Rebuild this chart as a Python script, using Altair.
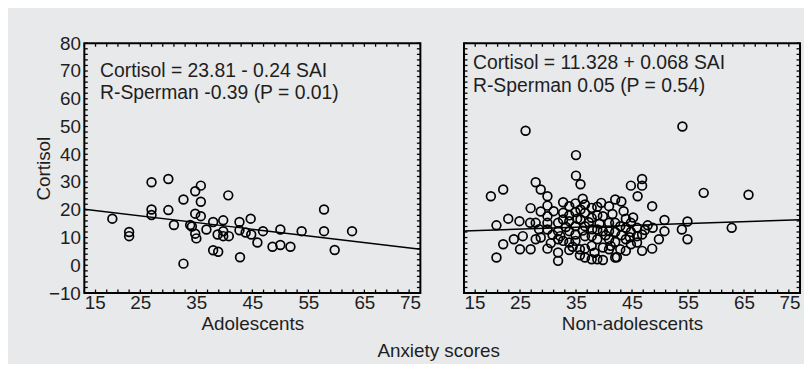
import altair as alt
import pandas as pd

# ---------------- data ----------------
adol_x = [20, 23, 23, 27, 27, 27, 30, 30, 31, 32.7, 32.7, 33.9, 34.2, 34.8, 34.8, 34.8, 35, 35.8, 35.8, 35.8,
          36.8, 38, 38, 38.9, 38.8, 39.8, 39.8, 39.8, 40.7, 40.8, 42.7, 42.7, 42.8, 43.8, 44.7, 44.8, 45.9,
          46.9, 48.6, 50, 50, 51.8, 53.8, 57.8, 57.8, 59.7, 62.8]
adol_y = [16.8, 12, 10.5, 29.9, 20.1, 18.1, 31.1, 19.9, 14.5, 23.7, 0.6, 14.5, 14, 26.7, 18.6, 11.4, 9.7, 28.7,
          22.9, 17.7, 12.9, 15.6, 5.4, 4.9, 11.1, 16.2, 12.3, 10.5, 25.2, 10.5, 15.6, 12.6, 2.9, 11.8, 16.8,
          11.1, 8.2, 12.3, 6.7, 12.9, 7.3, 6.7, 12.3, 20.1, 12.3, 5.5, 12.3]

nonadol_x = [26, 54, 35, 35, 35.8, 19.8, 22, 27.8, 28.7, 29.9, 29.9, 26.9, 28.7, 44.8, 46.8, 46.8, 46, 42, 43.1,
             40.9, 48.6, 57.8, 65.8, 62.8, 54.9, 54.9, 53.9, 50.8, 50.8, 49.8, 48.6, 20.8, 20.8, 22, 22.9, 23.9,
             24.9, 25, 26.8, 26.9, 27.8, 27.8, 28.7, 29.9, 29.9, 29.9, 29.9, 31.8, 31.8, 31.8, 31.8, 31.8, 32.7,
             32.7, 32.7, 32.7, 33.8, 33.8, 33.8, 33.8, 33.8, 34.9, 34.9, 34.9, 34.9, 34.9, 35.7, 35.7, 35.8,
             35.8, 36.6, 36.6, 36.6, 36.6, 36.6, 36.6, 37.8, 37.8, 37.8, 37.8, 37.8, 38.8, 38.8, 38.8, 38.8,
             38.8, 39.8, 39.8, 39.8, 39.8, 40.9, 40.9, 40.9, 40.9, 42, 42, 42, 42, 42.9, 42.9, 43.9, 43.9, 43.9,
             43.9, 44.8, 44.8, 44.8, 45.9, 45.9, 45.9, 46.8, 46.8, 47.8, 48.7,
             30.8, 33.8, 37.9, 39.2, 41.5, 36.2, 40.3, 43.1, 33.2, 31, 28.4, 25.5, 44.6, 42.3, 38.3, 35.2,
             37.3, 34.4, 41.2, 36.2, 39.5, 32.2, 47.3, 45.2, 30.5, 43.5]
nonadol_y = [48.5, 50, 39.7, 32.3, 29.2, 24.9, 27.3, 29.9, 27.3, 24.9, 21.5, 20.6, 19.4, 28.7, 31.1, 28.7, 24.9,
             23.7, 23, 21.3, 21.3, 26.1, 25.4, 13.5, 15.8, 9.4, 12.9, 16.3, 12.3, 9.4, 6, 2.8, 14.4, 7.6, 16.8,
             9.4, 15.9, 5.8, 15.3, 5.8, 15.3, 9.4, 10, 17.7, 15.3, 12.9, 6, 15.3, 12.3, 9.4, 4.6, 1.6, 22.7,
             18.9, 16.5, 8.8, 21.3, 18, 15.9, 12.3, 8.2, 22.3, 19.2, 14.1, 11.1, 8.8, 5.8, 3.6, 20.1, 16.5,
             21.9, 18.9, 14.1, 10.5, 6, 2.8, 20.7, 17.1, 10.5, 7, 2.2, 21.1, 18, 12.9, 9.4, 2.2, 17.7, 12.3,
             6.4, 1.9, 15.3, 12.3, 9.4, 5.8, 15.3, 12, 8.4, 2.8, 14.1, 5.8, 16.8, 13.5, 9.4, 5.2, 15.3, 12,
             7.6, 13.5, 10.5, 8.2, 11.1, 5.2, 14.4, 13.5,
             11, 5.5, 13, 15, 18.5, 12.5, 10.8, 10.8, 13.8, 19.5, 13, 10.5, 10.1, 2.9, 4.5, 16.8,
             15.5, 6.7, 7, 24, 22.5, 10.5, 12.7, 17.2, 8, 19.5]

# regression lines (endpoints at SAI = 15 and 75)
line_x = [15, 75]
adol_line_y = [20.21, 5.81]
nonadol_line_y = [12.35, 16.43]

adol_text = ["Cortisol = 23.81 - 0.24 SAI", "R-Sperman -0.39 (P = 0.01)"]
adol_text_x = [17.8, 17.8]
adol_text_y = [67.8, 59.8]
nonadol_text = ["Cortisol = 11.328 + 0.068 SAI", "R-Sperman 0.05 (P = 0.54)"]
nonadol_text_x = [16.6, 16.6]
nonadol_text_y = [70.9, 62.5]

x_label_values = [15, 25, 35, 45, 55, 65, 75]
y_label_values = [-10, 0, 10, 20, 30, 40, 50, 60, 70, 80]
x_minor_ticks = list(range(15, 76, 2))
y_minor_ticks = list(range(-10, 81, 2))

# ---------------- style ----------------
FONT = "Liberation Sans"
TXT = "#1e1e1e"
BG = "#e8e9eb"
W, H = 339, 252
FS = 19

xscale = alt.Scale(domain=[15, 75], nice=False, zero=False)
yscale = alt.Scale(domain=[-10, 80], nice=False, zero=False)


def panel(px, py, ly, texts, tx, ty, xtitle, show_y):
    xaxis = alt.Axis(values=x_label_values, title=xtitle, ticks=False, domain=False, grid=False,
                     labelPadding=1, titlePadding=2, labelFontSize=FS, titleFontSize=FS,
                     labelFont=FONT, titleFont=FONT, titleFontWeight="normal",
                     labelColor=TXT, titleColor=TXT)
    if show_y:
        yaxis = alt.Axis(values=y_label_values, title="Cortisol", ticks=False, domain=False, grid=False,
                         labelPadding=4, titlePadding=-5, labelFontSize=FS, titleFontSize=FS,
                         labelFont=FONT, titleFont=FONT, titleFontWeight="normal",
                         labelColor=TXT, titleColor=TXT)
    else:
        yaxis = None

    def X(field):
        return alt.X(f"{field}:Q", scale=xscale, axis=xaxis)

    def Y(field):
        return alt.Y(f"{field}:Q", scale=yscale, axis=yaxis)

    pts = alt.Chart(pd.DataFrame({"SAI": px, "Cortisol": py})).mark_point(
        shape="circle", filled=False, size=78, stroke="black", strokeWidth=1.7, opacity=1
    ).encode(x=X("SAI"), y=Y("Cortisol"))

    line = alt.Chart(pd.DataFrame({"SAI": line_x, "Cortisol": ly})).mark_line(
        color="black", strokeWidth=1.5
    ).encode(x=X("SAI"), y=Y("Cortisol"))

    txt = alt.Chart(pd.DataFrame({"SAI": tx, "Cortisol": ty, "t": texts})).mark_text(
        align="left", baseline="alphabetic", font=FONT, fontSize=19.5, color=TXT
    ).encode(x=X("SAI"), y=Y("Cortisol"), text="t:N")

    xt = pd.DataFrame({"SAI": x_minor_ticks})
    yt = pd.DataFrame({"Cortisol": y_minor_ticks})
    tick_style = dict(color="black", strokeWidth=1.3)
    bottom = alt.Chart(xt).mark_rule(**tick_style).encode(
        x=X("SAI"), y=alt.value(H), y2=alt.value(H - 3.5))
    top = alt.Chart(xt).mark_rule(**tick_style).encode(
        x=X("SAI"), y=alt.value(0), y2=alt.value(3.5))
    left = alt.Chart(yt).mark_rule(**tick_style).encode(
        y=Y("Cortisol"), x=alt.value(0), x2=alt.value(3.5))
    right = alt.Chart(yt).mark_rule(**tick_style).encode(
        y=Y("Cortisol"), x=alt.value(W), x2=alt.value(W - 3.5))

    return alt.layer(bottom, top, left, right, line, pts, txt).properties(width=W, height=H)


left_panel = panel(adol_x, adol_y, adol_line_y, adol_text, adol_text_x, adol_text_y, "Adolescents", True)
right_panel = panel(nonadol_x, nonadol_y, nonadol_line_y, nonadol_text, nonadol_text_x, nonadol_text_y,
                    "Non-adolescents", False)

chart = alt.hconcat(left_panel, right_panel, spacing=36).properties(
    background=BG,
    padding={"left": 25, "top": 24, "right": 0, "bottom": 2},
    title=alt.TitleParams("Anxiety scores", orient="bottom", anchor="middle", fontSize=FS, font=FONT,
                          fontWeight="normal", color=TXT, offset=7, dx=20),
).configure_view(stroke="black", strokeWidth=2)

chart.save("out.html", embed_options={"renderer": "svg", "actions": False})
